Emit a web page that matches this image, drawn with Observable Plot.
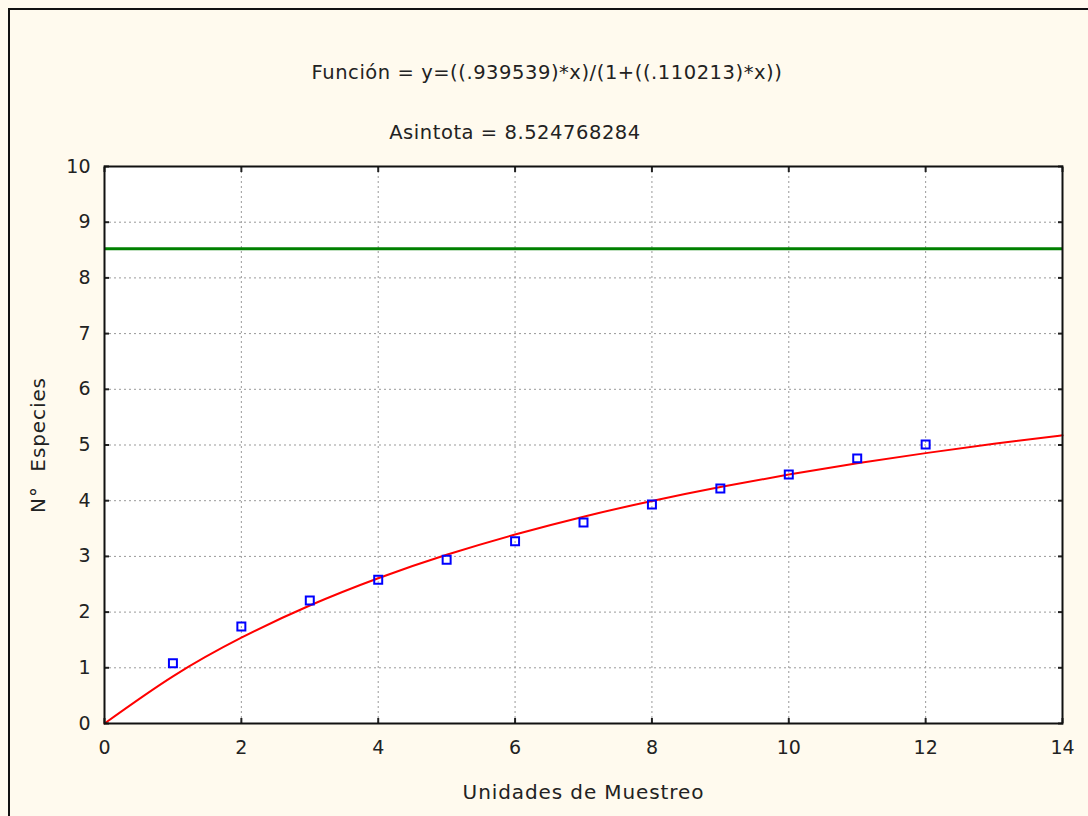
<!DOCTYPE html>
<html><head><meta charset="utf-8">
<script src="https://cdn.jsdelivr.net/npm/d3@7"></script>
<script src="https://cdn.jsdelivr.net/npm/@observablehq/plot@0.6"></script>
<style>
html,body{margin:0;padding:0;width:1088px;height:816px;overflow:hidden;background:#fff;}
#fig{position:absolute;left:0;top:0;width:1088px;height:816px;background:#fffaee;}
#border{position:absolute;left:8px;top:8px;width:1090px;height:820px;border-left:2px solid #111;border-top:2px solid #111;}
.t{position:absolute;font-family:"DejaVu Sans",Verdana,sans-serif;font-size:19.5px;letter-spacing:0.55px;line-height:20px;color:#222;white-space:nowrap;transform:translateX(-50%);}
#chart{position:absolute;left:0;top:0;}
g[aria-label="x-axis label"] text, g[aria-label="y-axis label"] text{font-size:20px;letter-spacing:0.9px;}
</style></head>
<body>
<div id="fig"><div id="border"></div><div id="chart"></div>
<div class="t" id="t1" style="left:547px;top:63px;">Función = y=((.939539)*x)/(1+((.110213)*x))</div>
<div class="t" id="t2" style="left:515px;top:123px;">Asintota = 8.524768284</div>
</div>
<script>
// observed samples
const unidades = [1,2,3,4,5,6,7,8,9,10,11,12];
const especies = [1.08,1.74,2.21,2.58,2.94,3.27,3.61,3.93,4.22,4.47,4.76,5.01];
// fitted curve values
const curvaX = [0,1,2,3,4,5,6,7,8,9,10,11,12,13,14];
const curvaY = [0,0.846,1.540,2.118,2.608,3.029,3.393,3.713,3.995,4.245,4.470,4.672,4.854,5.021,5.173];
const asintota = 8.524768284;
const xTicks = [0,2,4,6,8,10,12,14];
const yTicks = [0,1,2,3,4,5,6,7,8,9,10];

const puntos = unidades.map((u,i)=>({x:u,y:especies[i]}));
const curva = curvaX.map((u,i)=>({x:u,y:curvaY[i]}));

const font = '"DejaVu Sans", Verdana, sans-serif';
const plot = Plot.plot({
  width:1088, height:816,
  marginLeft:104, marginRight:26, marginTop:166, marginBottom:93,
  style:{background:"transparent", fontFamily:font, fontSize:"19px", color:"#222"},
  x:{domain:[0,14]},
  y:{domain:[0,10]},
  marks:[
    Plot.frame({fill:"white"}),
    Plot.gridX(xTicks.filter(d=>d>0&&d<14), {stroke:"#999", strokeOpacity:1, strokeDasharray:"2,3"}),
    Plot.gridY(yTicks.filter(d=>d>0&&d<10), {stroke:"#999", strokeOpacity:1, strokeDasharray:"2,3"}),
    Plot.ruleY([asintota], {stroke:"#008000", strokeWidth:3}),
    Plot.line(curva, {x:"x", y:"y", stroke:"#ff0000", strokeWidth:2, curve:"natural"}),
    Plot.dot(puntos, {x:"x", y:"y", symbol:"square", r:4.5, stroke:"#0000ff", strokeWidth:2, fill:"none"}),
    Plot.axisX(xTicks, {anchor:"bottom", tickSize:-5, tickPadding:22, tickFormat:"d", label:"Unidades de Muestreo", labelAnchor:"center", labelArrow:"none", labelOffset:75, fontSize:19, stroke:"#222", strokeWidth:2}),
    Plot.axisX(xTicks, {anchor:"top", tickSize:-5, text:null, label:null, stroke:"#222", strokeWidth:2}),
    Plot.axisY(yTicks, {anchor:"left", tickSize:-5, tickPadding:19, tickFormat:"d", label:"N°  Especies", labelAnchor:"center", labelArrow:"none", labelOffset:74, fontSize:19, stroke:"#222", strokeWidth:2}),
    Plot.axisY(yTicks, {anchor:"right", tickSize:-5, text:null, label:null, stroke:"#222", strokeWidth:2}),
    Plot.frame({stroke:"#111", strokeWidth:2})
  ]
});
document.getElementById("chart").appendChild(plot);
</script>
</body></html>
